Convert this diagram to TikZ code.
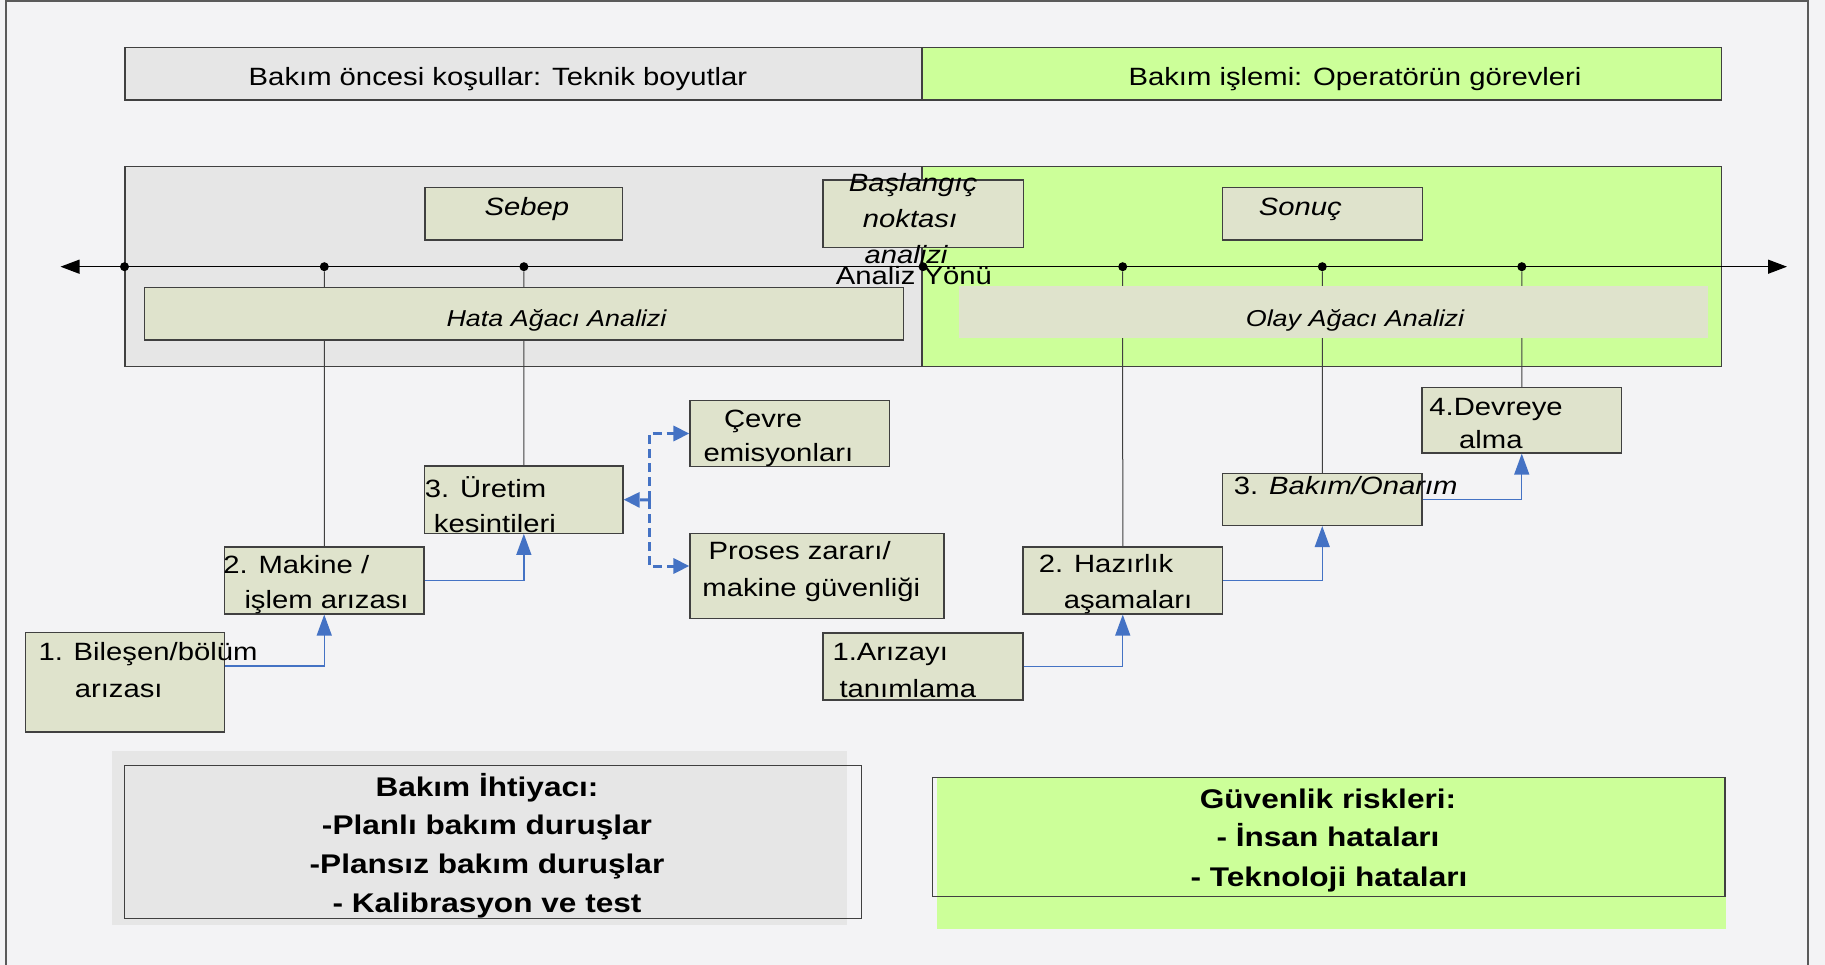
\documentclass[tikz,border=0pt]{standalone}
\usepackage{fontspec}
\setmainfont{Liberation Sans}[FakeStretch=1.17]
\usetikzlibrary{arrows.meta,fit}
\definecolor{bgc}{HTML}{F3F3F5}
\definecolor{grayband}{HTML}{E6E6E6}
\definecolor{greenband}{HTML}{CCFF99}
\definecolor{boxfill}{HTML}{DFE3CC}
\definecolor{blueline}{HTML}{4472C4}
\definecolor{linec}{HTML}{404040}
\definecolor{framec}{HTML}{5A5A5A}
\newcommand\fsA{\fontsize{25}{30}\selectfont}
\newcommand\fsB{\fontsize{23}{28}\selectfont}
\newcommand\fsC{\fontsize{27}{32}\selectfont}
\begin{document}
\begin{tikzpicture}[x=1pt,y=-1pt,
  band/.style={draw=linec, line width=1.3pt, inner sep=0pt},
  box/.style={draw=linec, line width=1.2pt, fill=boxfill, inner sep=0pt},
  t/.style={inner sep=0pt, font=\fsA, text height=17.5pt, text depth=0pt, anchor=west},
  tc/.style={t, anchor=center},
  ti/.style={inner sep=0pt, font=\fsA\itshape, text height=17.5pt, text depth=0pt, anchor=center},
  tl/.style={inner sep=0pt, font=\fsB\itshape, text height=16pt, text depth=0pt, anchor=center},
  tbold/.style={inner sep=0pt, font=\fsC\bfseries, text height=19pt, text depth=0pt, anchor=center},
  vline/.style={draw=linec, line width=1pt},
  dotn/.style={circle, fill=black, inner sep=0pt, minimum size=9pt},
  bluearr/.style={draw=blueline, line width=1.3pt, -{Triangle[length=21pt,width=15pt]}},
  dasharr/.style={draw=blueline, line width=3pt, dash pattern=on 9pt off 5pt, -{Triangle[length=16pt,width=15pt]}},
  axisarr/.style={draw=black, line width=1.3pt, {Triangle[length=19pt,width=14pt]}-{Triangle[length=19pt,width=14pt]}}
]
\useasboundingbox (0,0) rectangle (1825,965);
\fill[bgc] (0,0) rectangle (1825,965);
\draw[framec, line width=2pt] (6,966) -- (6,1) -- (1807.5,1) -- (1807.5,966);

% top band
\node[band, fill=grayband, fit={(125,47.5) (922,100)}] (tbL) {};
\node[band, fill=greenband, fit={(922,47.5) (1721.5,100)}] (tbR) {};
\node[tc] (tbLt) at (498,76.7) {Bakım öncesi koşullar: Teknik boyutlar};
\node[tc] (tbRt) at (1355,76.7) {Bakım işlemi: Operatörün görevleri};

% middle band
\node[band, fill=grayband, fit={(125,166.7) (922,366.7)}] (mbL) {};
\node[band, fill=greenband, fit={(922,166.7) (1721.5,366.7)}] (mbR) {};

\node[box, fit={(425,187.3) (622.8,240)}] (sebep) {};
\node[box, fit={(823,180) (1023.3,247.3)}] (basl) {};
\node[box, fit={(1222.4,187.3) (1422.6,240)}] (sonuc) {};

% boxes below
\node[box, fit={(25.5,632.5) (224.5,732)}] (b1) {};
\node[box, fit={(224.5,547) (424,614)}] (m2) {};
\node[box, fit={(424.7,466) (623,533.3)}] (u3) {};
\node[box, fit={(690,400.3) (889.5,466.7)}] (cv) {};
\node[box, fit={(690,533.5) (944,618.5)}] (pz) {};
\node[box, fit={(823,633) (1023,700)}] (a1) {};
\node[box, fit={(1023,547) (1222.5,614)}] (h2) {};
\node[box, fit={(1222.5,473.5) (1422,525.5)}] (bo) {};
\node[box, fit={(1422,387.5) (1621.5,453)}] (dv) {};

% axis
\coordinate (axL) at (60.5,266.7);
\coordinate (axR) at (1787,266.7);
\draw[axisarr] (axL) -- (axR);
\node[dotn] (d1) at (124.5,266.7) {};
\node[dotn] (d2) at (324.3,266.7) {};
\node[dotn] (d3) at (523.9,266.7) {};
\node[dotn] (d4) at (923,266.7) {};
\node[dotn] (d5) at (1122.7,266.7) {};
\node[dotn] (d6) at (1322.3,266.7) {};
\node[dotn] (d7) at (1521.8,266.7) {};

% vertical lines
\draw[vline] (d2) -- (m2.north);
\draw[vline] (d3) -- (u3.north);
\draw[vline] (d5) -- (h2.north);
\draw[vline] (d6) -- (bo.north);
\draw[vline] (d7) -- (dv.north);

% analysis boxes
\node[box, fit={(144.4,287.3) (903.4,340)}] (hata) {};
\node[fill=boxfill, inner sep=0pt, fit={(959.3,286) (1708,337.7)}] (olay) {};

% labels upper
\node[ti] (sebept) at (526.8,206.7) {Sebep};
\node[ti] (sonuct) at (1300.3,206.7) {Sonuç};
\node[ti] (baslt1) at (913,182.7) {Başlangıç};
\node[ti] (baslt2) at (910,218.3) {noktası};
\node[ti] (baslt3) at (906,255) {analizi};
\node[tc] (yonu) at (914,276) {Analiz Yönü};
\node[tl] (hatat) at (556.5,318.3) {Hata Ağacı Analizi};
\node[tl] (olayt) at (1355,318.3) {Olay Ağacı Analizi};

% blue connectors
\draw[bluearr] ([yshift=16.3pt]b1.east) -| (m2.south);
\draw[bluearr] (m2.east) -| (u3.south);
\draw[bluearr] (a1.east) -| (h2.south);
\draw[bluearr] (h2.east) -| (bo.south);
\draw[bluearr] (bo.east) -| (dv.south);

\coordinate (jn) at (649,500);
\draw[dasharr] (jn) -- (u3.east);
\draw[dasharr] (jn) |- (cv.west);
\draw[dasharr] (jn) |- ([yshift=10pt]pz.west);

% box texts
\node[t] (b1t1) at (38.3,651.7) {1. Bileşen/bölüm};
\node[t] (b1t2) at (74.6,688.3) {arızası};
\node[t] (m2t1) at (223.2,565) {2. Makine /};
\node[t] (m2t2) at (244.3,600) {işlem arızası};
\node[t] (u3t1) at (424.7,488.3) {3. Üretim};
\node[t] (u3t2) at (433.7,524) {kesintileri};
\node[t] (cvt1) at (723.9,418.3) {Çevre};
\node[t] (cvt2) at (703.4,452.7) {emisyonları};
\node[t] (pzt1) at (708.5,550.7) {Proses zararı/};
\node[t] (pzt2) at (702.2,587.3) {makine güvenliği};
\node[t] (a1t1) at (832.3,651.7) {1.Arızayı};
\node[t] (a1t2) at (839.3,688.3) {tanımlama};
\node[t] (h2t1) at (1038.7,564) {2. Hazırlık};
\node[t] (h2t2) at (1063.6,600) {aşamaları};
\node[t] (bot1) at (1233.6,486) {3. \textit{Bakım/Onarım}};
\node[t] (dvt1) at (1429.2,406.7) {4.Devreye};
\node[t] (dvt2) at (1459,440) {alma};

% bottom left
\fill[grayband] (111.7,750.7) rectangle (847.3,925.3);
\node[draw=linec, line width=1.3pt, inner sep=0pt, fit={(124.5,765.3) (861.3,918.3)}] (need) {};
\node[tbold] (need1) at (487,786.7) {Bakım İhtiyacı:};
\node[tbold] (need2) at (487,825) {-Planlı bakım duruşlar};
\node[tbold] (need3) at (487,864) {-Plansız bakım duruşlar};
\node[tbold] (need4) at (487,903.3) {- Kalibrasyon ve test};

% bottom right
\fill[greenband] (937,777.5) rectangle (1726,928.8);
\node[draw=linec, line width=1.3pt, inner sep=0pt, fit={(932.3,777.5) (1725,896.2)}] (risk) {};
\node[tbold] (risk1) at (1328,799.3) {Güvenlik riskleri:};
\node[tbold] (risk2) at (1328,836.7) {- İnsan hataları};
\node[tbold] (risk3) at (1329,876.7) {- Teknoloji hataları};
\end{tikzpicture}
\end{document}
